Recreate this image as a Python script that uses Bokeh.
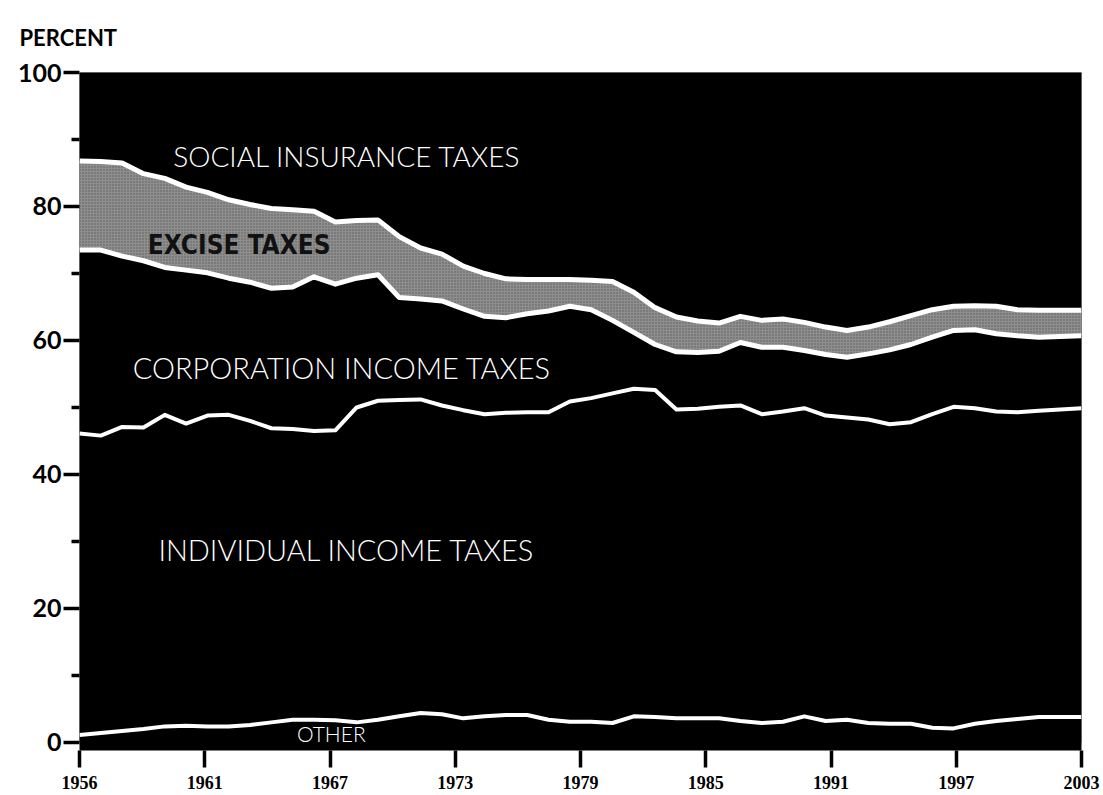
import numpy as np
from bokeh.plotting import figure
from bokeh.models import Range1d, FixedTicker, Label, ColumnDataSource
from bokeh.transform import stack
from bokeh.embed import file_html
from bokeh.resources import INLINE

years = list(range(1956, 2004))
other = [1.1, 1.4, 1.7, 2.0, 2.4, 2.5, 2.4, 2.4, 2.6, 3.0, 3.4, 3.4, 3.3, 3.0, 3.4, 3.9,
         4.4, 4.2, 3.6, 3.9, 4.1, 4.1, 3.4, 3.1, 3.1, 2.9, 3.9, 3.8, 3.6, 3.6, 3.6, 3.2,
         2.9, 3.1, 3.9, 3.2, 3.4, 2.9, 2.8, 2.8, 2.2, 2.1, 2.8, 3.2, 3.5, 3.8, 3.8, 3.8]
individual = [45.0, 44.4, 45.4, 45.0, 46.5, 45.1, 46.4, 46.5, 45.4, 43.9, 43.4, 43.1, 43.3, 47.0, 47.6, 47.2,
              46.8, 46.1, 46.0, 45.1, 45.1, 45.2, 45.9, 47.8, 48.3, 49.2, 48.9, 48.8, 46.1, 46.2, 46.5, 47.1,
              46.1, 46.3, 46.0, 45.6, 45.1, 45.3, 44.7, 45.0, 46.8, 48.0, 47.1, 46.2, 45.8, 45.7, 45.9, 46.1]
corporation = [27.4, 27.7, 25.5, 24.9, 22.0, 22.9, 21.3, 20.4, 20.7, 20.9, 21.2, 23.0, 21.8, 19.3, 18.8, 15.3,
               15.0, 15.6, 15.1, 14.6, 14.2, 14.7, 15.1, 14.2, 13.2, 10.9, 8.4, 6.8, 8.6, 8.4, 8.3, 9.4,
               10.0, 9.6, 8.6, 9.1, 9.0, 9.8, 11.1, 11.6, 11.5, 11.4, 11.7, 11.6, 11.4, 11.0, 10.9, 10.8]
excise = [13.3, 13.2, 13.9, 13.0, 13.3, 12.4, 12.0, 11.7, 11.6, 11.9, 11.5, 9.8, 9.3, 8.6, 8.2, 9.1,
          7.6, 7.0, 6.4, 6.4, 5.8, 5.1, 4.7, 4.0, 4.4, 5.8, 6.0, 5.5, 5.2, 4.7, 4.2, 3.9,
          4.0, 4.2, 4.2, 4.1, 4.0, 4.0, 4.2, 4.3, 4.1, 3.6, 3.6, 4.1, 3.9, 4.0, 3.9, 3.8]
social = [13.2, 13.3, 13.5, 15.1, 15.8, 17.1, 17.9, 19.0, 19.7, 20.3, 20.5, 20.7, 22.3, 22.1, 22.0, 24.5,
          26.2, 27.1, 28.9, 30.0, 30.8, 30.9, 30.9, 30.9, 31.0, 31.2, 32.8, 35.1, 36.5, 37.1, 37.4, 36.4,
          37.0, 36.8, 37.3, 38.0, 38.5, 38.0, 37.2, 36.3, 35.4, 34.9, 34.8, 34.9, 35.4, 35.5, 35.5, 35.5]

x_tick_labels = ["1956", "1961", "1967", "1973", "1979", "1985", "1991", "1997", "2003"]
y_ticks = [0, 20, 40, 60, 80, 100]
y_minor_ticks = [10, 30, 50, 70, 90]
series = ["other", "individual", "corporation", "excise", "social"]
series_colors = ["black", "black", "black", "#8e8e8e", "black"]

src = ColumnDataSource(dict(year=years, other=other, individual=individual,
                            corporation=corporation, excise=excise, social=social))

p = figure(width=1100, height=792, output_backend="svg", toolbar_location=None,
           x_range=Range1d(years[0], years[-1]), y_range=Range1d(-1.2, 100),
           min_border_left=79, min_border_right=19, min_border_top=72, min_border_bottom=42,
           title="PERCENT")
p.background_fill_color = "black"
p.border_fill_color = "white"
p.outline_line_color = None
p.xgrid.visible = False
p.ygrid.visible = False

p.title.align = "left"
p.title.offset = -60
p.title.standoff = 40
p.title.vertical_align = "top"
p.title.text_font = "Lato"
p.title.text_font_style = "bold"
p.title.text_font_size = "22px"
p.title.text_color = "black"

p.varea_stack(stackers=series, x="year", color=series_colors, source=src)
# stipple on excise band
p.varea(x="year", y1=stack("other", "individual", "corporation"),
        y2=stack("other", "individual", "corporation", "excise"), source=src,
        fill_alpha=0, hatch_pattern="dot", hatch_color="black", hatch_alpha=0.35,
        hatch_scale=3, hatch_weight=1)

line_widths = [4, 4, 5, 5]
for k in range(4):
    p.line(x="year", y=stack(*series[:k + 1]), source=src,
           line_color="white", line_width=line_widths[k], line_join="round")

# axes
tick_pos = list(np.linspace(years[0], years[-1], len(x_tick_labels)))
p.xaxis.ticker = FixedTicker(ticks=tick_pos)
p.xaxis.major_label_overrides = {t: s for t, s in zip(tick_pos, x_tick_labels)}
p.xaxis.axis_line_color = None
p.xaxis.major_tick_in = 0
p.xaxis.major_tick_out = 17
p.xaxis.major_tick_line_width = 3.5
p.xaxis.major_tick_line_color = "black"
p.xaxis.minor_tick_line_color = None
p.xaxis.major_label_standoff = 8
p.xaxis.major_label_text_font = "Liberation Serif"
p.xaxis.major_label_text_font_style = "bold"
p.xaxis.major_label_text_font_size = "18px"
p.xaxis.major_label_text_color = "black"

p.yaxis.ticker = FixedTicker(ticks=y_ticks, minor_ticks=y_minor_ticks)
p.yaxis.axis_line_color = None
p.yaxis.major_tick_in = 0
p.yaxis.major_tick_out = 16
p.yaxis.major_tick_line_width = 3.5
p.yaxis.major_tick_line_color = "black"
p.yaxis.minor_tick_in = 0
p.yaxis.minor_tick_out = 8
p.yaxis.minor_tick_line_width = 3.5
p.yaxis.minor_tick_line_color = "black"
p.yaxis.major_label_standoff = 2
p.yaxis.major_label_text_font = "Lato"
p.yaxis.major_label_text_font_style = "bold"
p.yaxis.major_label_text_font_size = "25px"
p.yaxis.major_label_text_color = "black"

label_font = "Lato Light"
p.add_layout(Label(x=1960.4, y=87.6, text="SOCIAL INSURANCE TAXES", text_color="white",
                   text_font=label_font, text_font_size="28px", text_baseline="middle"))
p.add_layout(Label(x=1959.2, y=74.3, text="EXCISE TAXES", text_color="#111111",
                   text_font="DejaVu Sans Condensed, Liberation Sans", text_font_style="bold",
                   text_font_size="26px", text_baseline="middle"))
p.add_layout(Label(x=1958.5, y=56.0, text="CORPORATION INCOME TAXES", text_color="white",
                   text_font=label_font, text_font_size="29px", text_baseline="middle"))
p.add_layout(Label(x=1959.7, y=28.8, text="INDIVIDUAL INCOME TAXES", text_color="white",
                   text_font=label_font, text_font_size="29px", text_baseline="middle"))
p.add_layout(Label(x=1966.2, y=1.3, text="OTHER", text_color="white",
                   text_font=label_font, text_font_size="21px", text_baseline="middle"))

open("out.html", "w").write(file_html(p, INLINE))
